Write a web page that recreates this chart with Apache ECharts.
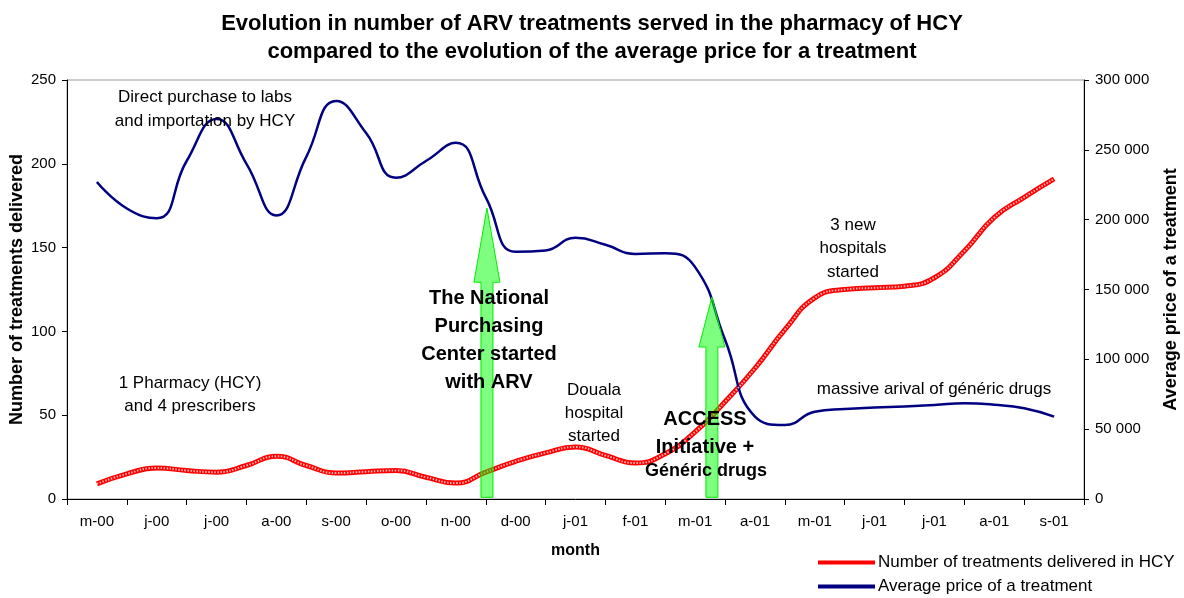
<!DOCTYPE html>
<html>
<head>
<meta charset="utf-8">
<script src="https://cdn.jsdelivr.net/npm/echarts@6/dist/echarts.min.js"></script>
<style>
  html, body { margin: 0; padding: 0; background: #fff; }
  #chart { width: 1184px; height: 598px; }
</style>
</head>
<body>
<div id="chart"></div>
<script>
// month labels (one per category slot)
const months = ['m-00', 'j-00', 'j-00', 'a-00', 's-00', 'o-00', 'n-00', 'd-00', 'j-01',
  'f-01', 'm-01', 'a-01', 'm-01', 'j-01', 'j-01', 'a-01', 's-01'];

// x position of each reading, in months from the start (half-month steps)
const steps = [0.5, 1, 1.5, 2, 2.5, 3, 3.5, 4, 4.5, 5, 5.5, 6, 6.5, 7, 7.5, 8, 8.5,
  9, 9.5, 10, 10.5, 11, 11.5, 12, 12.5, 13, 13.5, 14, 14.5, 15, 15.5, 16, 16.5];

// number of treatments delivered in HCY (left axis)
const treatments = [9, 15, 18.5, 17, 16, 20, 25.5, 20, 15.5, 16.3, 17, 13, 9.5, 16, 22.5, 27.5, 31,
  26, 21.5, 27, 40, 58, 78, 101, 120, 125, 126, 127, 132, 148, 168, 180, 191];

// average price of a treatment (right axis)
const price = [227000, 208000, 201000, 242000, 272000, 240000, 203000, 245000, 285000, 262000,
  230000, 242000, 255000, 216000, 177000, 178000, 187000, 182000, 175500, 176000, 166000,
  114000, 59000, 53000, 62500, 64500, 65500, 66200, 67300, 68500, 67500, 65000, 59000];

// event arrows: [month position, tip value on left axis, head length]
const arrows = [[7.02, 173.5, 74], [10.78, 120.5, 50]];

const FONT = 'Arial, "Liberation Sans", sans-serif';

const chart = echarts.init(document.getElementById('chart'));

function note(text, x, y, opts) {
  return {
    type: 'text',
    x: x,
    y: y,
    z: 100,
    style: Object.assign({
      text: text,
      align: 'center',
      verticalAlign: 'middle',
      fontFamily: FONT,
      fontSize: 17,
      fill: '#000',
      lineHeight: 23
    }, opts || {})
  };
}

const spaced = v => String(v).replace(/\B(?=(\d{3})+(?!\d))/g, ' ');

chart.setOption({
  animation: false,
  backgroundColor: '#fff',
  textStyle: { fontFamily: FONT },
  title: {
    text: 'Evolution in number of ARV treatments served in the pharmacy of HCY\ncompared to the evolution of the average price for a treatment',
    left: 'center',
    top: 5,
    textStyle: { fontSize: 22, fontWeight: 'bold', color: '#000', lineHeight: 28, fontFamily: FONT }
  },
  legend: {
    orient: 'vertical',
    left: 818,
    top: 554,
    height: 44,
    itemWidth: 57,
    itemHeight: 4,
    itemGap: 7,
    icon: 'rect',
    padding: 0,
    textStyle: { fontSize: 17, color: '#000', fontFamily: FONT, padding: [0, 0, 0, -2] },
    data: ['Number of treatments delivered in HCY', 'Average price of a treatment']
  },
  grid: {
    left: 67, right: 100, top: 80, bottom: 99,
    outerBoundsMode: 'none',
    containLabel: false,
    show: true, borderColor: '#999', borderWidth: 1
  },
  xAxis: [{
    type: 'category',
    data: months,
    boundaryGap: true,
    name: 'month',
    nameLocation: 'middle',
    nameGap: 44,
    nameTextStyle: { fontSize: 16, fontWeight: 'bold', color: '#000' },
    axisLine: { lineStyle: { color: '#000' } },
    axisTick: { show: true, length: 6, lineStyle: { color: '#000' } },
    axisLabel: { fontSize: 15, color: '#000', margin: 15, interval: 0 }
  }, {
    type: 'value',
    min: 0,
    max: 17,
    show: false
  }],
  yAxis: [{
    type: 'value',
    min: 0, max: 250, interval: 50,
    name: 'Number of treatments delivered',
    nameLocation: 'middle',
    nameGap: 41,
    nameMoveOverlap: false,
    nameTextStyle: { fontSize: 18, fontWeight: 'bold', color: '#000' },
    axisLine: { show: true, lineStyle: { color: '#000' } },
    axisTick: { show: true, length: 5, lineStyle: { color: '#000' } },
    axisLabel: { fontSize: 15, color: '#000', margin: 11 },
    splitLine: { show: false }
  }, {
    type: 'value',
    min: 0, max: 300000, interval: 50000,
    position: 'right',
    name: 'Average price of a treatment',
    nameLocation: 'middle',
    nameGap: 78,
    nameRotate: 90,
    nameMoveOverlap: false,
    nameTextStyle: { fontSize: 18, fontWeight: 'bold', color: '#000' },
    axisLine: { show: true, lineStyle: { color: '#000' } },
    axisTick: { show: true, length: 5, lineStyle: { color: '#000' } },
    axisLabel: { fontSize: 15, color: '#000', margin: 11, formatter: spaced },
    splitLine: { show: false }
  }],
  series: [{
    name: 'Number of treatments delivered in HCY',
    type: 'line',
    xAxisIndex: 1, yAxisIndex: 0,
    smooth: true,
    symbol: 'none',
    color: '#ff0000',
    lineStyle: { color: '#ff0000', width: 5 },
    data: steps.map((s, i) => [s, treatments[i]]),
    z: 3
  }, {
    // light dots on top of the red line to get the hatched look
    name: 'Number of treatments delivered in HCY',
    type: 'line',
    xAxisIndex: 1, yAxisIndex: 0,
    smooth: true,
    symbol: 'none',
    silent: true,
    lineStyle: { color: 'rgba(255,255,255,0.7)', width: 2, type: [1.5, 1.5] },
    data: steps.map((s, i) => [s, treatments[i]]),
    z: 4
  }, {
    name: 'Average price of a treatment',
    type: 'line',
    xAxisIndex: 1, yAxisIndex: 1,
    smooth: true,
    symbol: 'none',
    color: '#000080',
    lineStyle: { color: '#000080', width: 2.5 },
    data: steps.map((s, i) => [s, price[i]]),
    z: 3
  }, {
    type: 'custom',
    xAxisIndex: 1, yAxisIndex: 0,
    silent: true,
    z: 10,
    data: arrows,
    renderItem: (params, api) => {
      const tip = api.coord([api.value(0), api.value(1)]);
      const base = api.coord([api.value(0), 1]);
      const head = api.value(2);
      const cx = tip[0];
      const hy = tip[1] + head;
      return {
        type: 'polygon',
        shape: {
          points: [
            [cx - 6, base[1]], [cx - 6, hy], [cx - 13, hy], [cx, tip[1]],
            [cx + 13, hy], [cx + 6, hy], [cx + 6, base[1]]
          ]
        },
        style: { fill: 'rgba(0,255,0,0.5)', stroke: '#00ee00', lineWidth: 1 }
      };
    }
  }],
  graphic: [
    note('Direct purchase to labs\nand importation by HCY', 205, 109, { lineHeight: 24 }),
    note('1 Pharmacy (HCY)\nand 4 prescribers', 190, 394.5),
    note('The National\nPurchasing\nCenter started\nwith ARV', 489, 340.5,
      { fontSize: 20, fontWeight: 'bold', lineHeight: 27.7 }),
    note('Douala\nhospital\nstarted', 594, 413),
    note('ACCESS\nInitiative +', 705, 433, { fontSize: 20, fontWeight: 'bold', lineHeight: 28 }),
    note('Généric drugs', 706, 471, { fontSize: 18, fontWeight: 'bold' }),
    note('3 new\nhospitals\nstarted', 853, 248.5, { lineHeight: 23.5 }),
    note('massive arival of généric drugs', 934, 389)
  ]
});
</script>
</body>
</html>
